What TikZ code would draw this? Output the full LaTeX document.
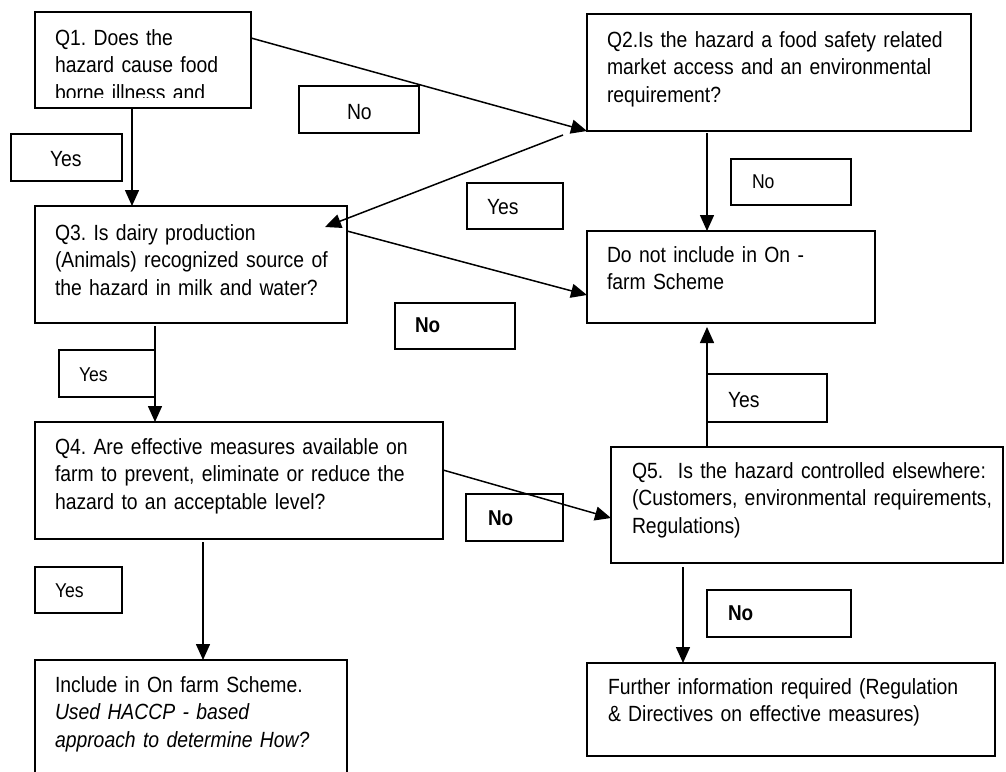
\documentclass[tikz,border=0pt]{standalone}
\usepackage{fontspec}
\setmainfont{Liberation Sans}[FakeStretch=0.88]
\usetikzlibrary{arrows.meta}
\frenchspacing

\begin{document}
\begin{tikzpicture}[x=1pt,y=-1pt,
  box/.style={draw, line width=1.8pt, anchor=north west, inner sep=0pt, outer sep=0pt},
  tag/.style={draw, line width=1.7pt, anchor=north west, inner sep=0pt, outer sep=0pt},
  txt/.style={anchor=base west, inner sep=0pt, outer sep=0pt, align=left, text width=420pt,
              font=\frenchspacing\fontsize{22}{27.7}\selectfont},
  lab/.style={anchor=base west, inner sep=0pt, outer sep=0pt, font=\fontsize{22}{24}\selectfont},
  slab/.style={lab, font=\fontsize{20}{22}\selectfont},
  blab/.style={lab, font=\bfseries\fontsize{21.5}{24}\selectfont},
  arr/.style={line width=1.5pt, -{Triangle[length=16pt,width=14pt]}}]

\useasboundingbox (0,0) rectangle (1006,771);
\fill[white] (0,0) rectangle (1006,771);
\clip (0,0) rectangle (1006,771);

% ---- question and outcome boxes ----
\node[box, minimum width=216pt, minimum height=96pt]  (q1)  at (35,12)  {};
\node[box, minimum width=384pt, minimum height=117pt] (q2)  at (587,14) {};
\node[box, minimum width=312pt, minimum height=117pt] (q3)  at (35,206) {};
\node[box, minimum width=288pt, minimum height=92pt]  (dn)  at (587,231) {};
\node[box, minimum width=408pt, minimum height=117pt] (q4)  at (35,422) {};
\node[box, minimum width=392pt, minimum height=116pt] (q5)  at (611,447) {};
\node[box, minimum width=408pt, minimum height=93pt]  (fu)  at (587,663) {};
\node[box, minimum width=312pt, minimum height=130pt] (inc) at (35,660) {};

% ---- box texts ----
\begin{scope}
  \clip (35,12) rectangle (251,97);
  \node[txt] (q1t) at (55,45) {Q1. Does the\\hazard cause food\\borne illness and};
\end{scope}
\node[txt] (q2t) at (607,47) {Q2.Is the hazard a food safety related\\market access and an environmental\\requirement?};
\node[txt] (q3t) at (55,240) {Q3. Is dairy production\\(Animals) recognized source of\\the hazard in milk and water?};
\node[txt] (dnt) at (607,262) {Do not include in On -\\farm Scheme};
\node[txt] (q4t) at (55,454) {Q4. Are effective measures available on\\farm to prevent, eliminate or reduce the\\hazard to an acceptable level?};
\node[txt] (q5t) at (632,478) {Q5.\ \ Is the hazard controlled elsewhere:\\(Customers, environmental requirements,\\Regulations)};
\node[txt] (fut) at (608,694) {Further information required (Regulation\\\& Directives on effective measures)};
\node[txt] (inct) at (55,692) {Include in On farm Scheme.\\\textit{Used HACCP - based}\\\textit{approach to determine How?}};

% ---- answer tags ----
\node[tag, minimum width=111pt, minimum height=47pt] (l1)  at (11,134)  {};
\node[lab]  (l1t)  at (50,166)  {Yes};
\node[tag, minimum width=120pt, minimum height=47pt] (l2)  at (299,86)  {};
\node[lab]  (l2t)  at (347,119) {No};
\node[tag, minimum width=120pt, minimum height=46pt] (l3)  at (731,159) {};
\node[slab] (l3t)  at (752,188) {No};
\node[tag, minimum width=96pt,  minimum height=46pt] (l4)  at (467,183) {};
\node[lab]  (l4t)  at (487,214) {Yes};
\node[tag, minimum width=120pt, minimum height=46pt] (l5)  at (395,303) {};
\node[blab] (l5t)  at (415,332) {No};
\node[tag, minimum width=96pt,  minimum height=47pt] (l6)  at (59,350)  {};
\node[slab] (l6t)  at (79,381)  {Yes};
\node[tag, minimum width=120pt, minimum height=48pt] (l7)  at (707,374) {};
\node[lab]  (l7t)  at (728,407) {Yes};
\node[tag, minimum width=97pt,  minimum height=47pt] (l8)  at (466,494) {};
\node[blab] (l8t)  at (488,525) {No};
\node[tag, minimum width=87pt,  minimum height=46pt] (l9)  at (35,567)  {};
\node[slab] (l9t)  at (55,597)  {Yes};
\node[tag, minimum width=144pt, minimum height=47pt] (l10) at (707,590) {};
\node[blab] (l10t) at (728,620) {No};

% ---- connectors ----
\coordinate (a13) at ([xshift=-11pt]q1.south);
\draw[arr] (a13) -- (a13 |- q3.north);

\draw[arr] ([yshift=-26pt]q1.north east) -- (q2.south west);

\coordinate (a23) at (563,135);
\draw[arr] (a23) -- ([xshift=-22pt,yshift=-21pt]q3.north east);

\coordinate (a2d) at ([xshift=120pt,yshift=-2pt]q2.south west);
\draw[arr] (a2d) -- (a2d |- dn.north);

\draw[arr] ([yshift=-25pt]q3.north east) -- ([yshift=-64pt]dn.north west);

\coordinate (a34) at ([xshift=120pt,yshift=-3pt]q3.south west);
\draw[arr] (a34) -- (a34 |- q4.north);

\coordinate (a4i) at ([xshift=168pt,yshift=-3pt]q4.south west);
\draw[arr] (a4i) -- (a4i |- inc.north);

\draw[arr] ([yshift=-48pt]q4.north east) -- ([yshift=-71pt]q5.north west);

\coordinate (a5d) at ([xshift=96pt]q5.north west);
\draw[arr] (a5d) -- ([yshift=-4pt]a5d |- dn.south);

\coordinate (a5f) at ([xshift=72pt,yshift=-4pt]q5.south west);
\draw[arr] (a5f) -- (a5f |- fu.north);
\end{tikzpicture}
\end{document}
